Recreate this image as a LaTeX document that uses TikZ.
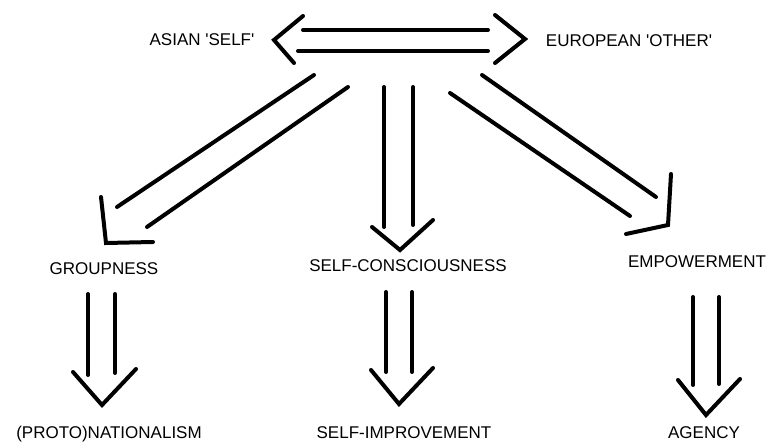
\documentclass[tikz,border=0pt]{standalone}
\usepackage{fontspec}
\setmainfont{Liberation Sans}
\usepackage{tikz}
\tikzset{
  lbl/.style={font=\fontsize{17}{20}\selectfont, anchor=base, inner sep=0pt},
  shaft/.style={line width=4pt, line cap=round},
  head/.style={line width=4pt, line join=miter, line cap=round}
}

\begin{document}
\begin{tikzpicture}[x=1pt, y=-1pt]

  \useasboundingbox (0,0) rectangle (771,443);

  \node[lbl] (asian)    at (202,46)  {ASIAN \textquotesingle SELF\textquotesingle};
  \node[lbl] (europe)   at (629,47)  {EUROPEAN \textquotesingle OTHER\textquotesingle};
  \node[lbl] (group)    at (104,275) {GROUPNESS};
  \node[lbl] (selfcons) at (408,272) {SELF-CONSCIOUSNESS};
  \node[lbl] (empower)  at (697,268) {EMPOWERMENT};
  \node[lbl] (proto)    at (109,438) {(PROTO)NATIONALISM};
  \node[lbl] (selfimp)  at (404,438) {SELF-IMPROVEMENT};
  \node[lbl] (agency)   at (704,438) {AGENCY};

  % asian self <-> european other
  \coordinate (ae-a1) at (303,30);  \coordinate (ae-a2) at (488,30);
  \coordinate (ae-b1) at (298,51);  \coordinate (ae-b2) at (488,51);
  \draw[shaft] (ae-a1) -- (ae-a2);
  \draw[shaft] (ae-b1) -- (ae-b2);
  \draw[head] (303,16) coordinate (ae-l1) -- (274,40) coordinate (ae-lt) -- (294,63) coordinate (ae-l2);
  \draw[head] (495,15) coordinate (ae-r1) -- (525,39) coordinate (ae-rt) -- (495,63) coordinate (ae-r2);

  % to groupness
  \coordinate (g-a1) at (314,75);  \coordinate (g-a2) at (117,207);
  \coordinate (g-b1) at (348,87);  \coordinate (g-b2) at (147,227);
  \draw[shaft] (g-a1) -- (g-a2);
  \draw[shaft] (g-b1) -- (g-b2);
  \draw[head] (101,197) coordinate (g-h1) -- (106,243) coordinate (g-t) -- (153,242) coordinate (g-h2);

  % to self-consciousness
  \coordinate (c-a1) at (384,87);  \coordinate (c-a2) at (384,227);
  \coordinate (c-b1) at (413,87);  \coordinate (c-b2) at (413,225);
  \draw[shaft] (c-a1) -- (c-a2);
  \draw[shaft] (c-b1) -- (c-b2);
  \draw[head] (372,227) coordinate (c-h1) -- (400,250) coordinate (c-t) -- (433,220) coordinate (c-h2);

  % to empowerment
  \coordinate (m-a1) at (482,75);  \coordinate (m-a2) at (656,197);
  \coordinate (m-b1) at (450,93);  \coordinate (m-b2) at (630,216);
  \draw[shaft] (m-a1) -- (m-a2);
  \draw[shaft] (m-b1) -- (m-b2);
  \draw[head] (671,174) coordinate (m-h1) -- (668,225) coordinate (m-t) -- (626,234) coordinate (m-h2);

  % second row
  \coordinate (p-a1) at (88,294);   \coordinate (p-a2) at (88,375);
  \coordinate (p-b1) at (115,294);  \coordinate (p-b2) at (115,373);
  \draw[shaft] (p-a1) -- (p-a2);
  \draw[shaft] (p-b1) -- (p-b2);
  \draw[head] (73,372) coordinate (p-h1) -- (102,405) coordinate (p-t) -- (136,369) coordinate (p-h2);

  \coordinate (i-a1) at (386,292);  \coordinate (i-a2) at (386,372);
  \coordinate (i-b1) at (412,292);  \coordinate (i-b2) at (412,372);
  \draw[shaft] (i-a1) -- (i-a2);
  \draw[shaft] (i-b1) -- (i-b2);
  \draw[head] (371,370) coordinate (i-h1) -- (399,404) coordinate (i-t) -- (433,368) coordinate (i-h2);

  \coordinate (a-a1) at (693,297);  \coordinate (a-a2) at (693,385);
  \coordinate (a-b1) at (719,297);  \coordinate (a-b2) at (719,384);
  \draw[shaft] (a-a1) -- (a-a2);
  \draw[shaft] (a-b1) -- (a-b2);
  \draw[head] (678,380) coordinate (a-h1) -- (706,415) coordinate (a-t) -- (740,379) coordinate (a-h2);

\end{tikzpicture}
\end{document}
